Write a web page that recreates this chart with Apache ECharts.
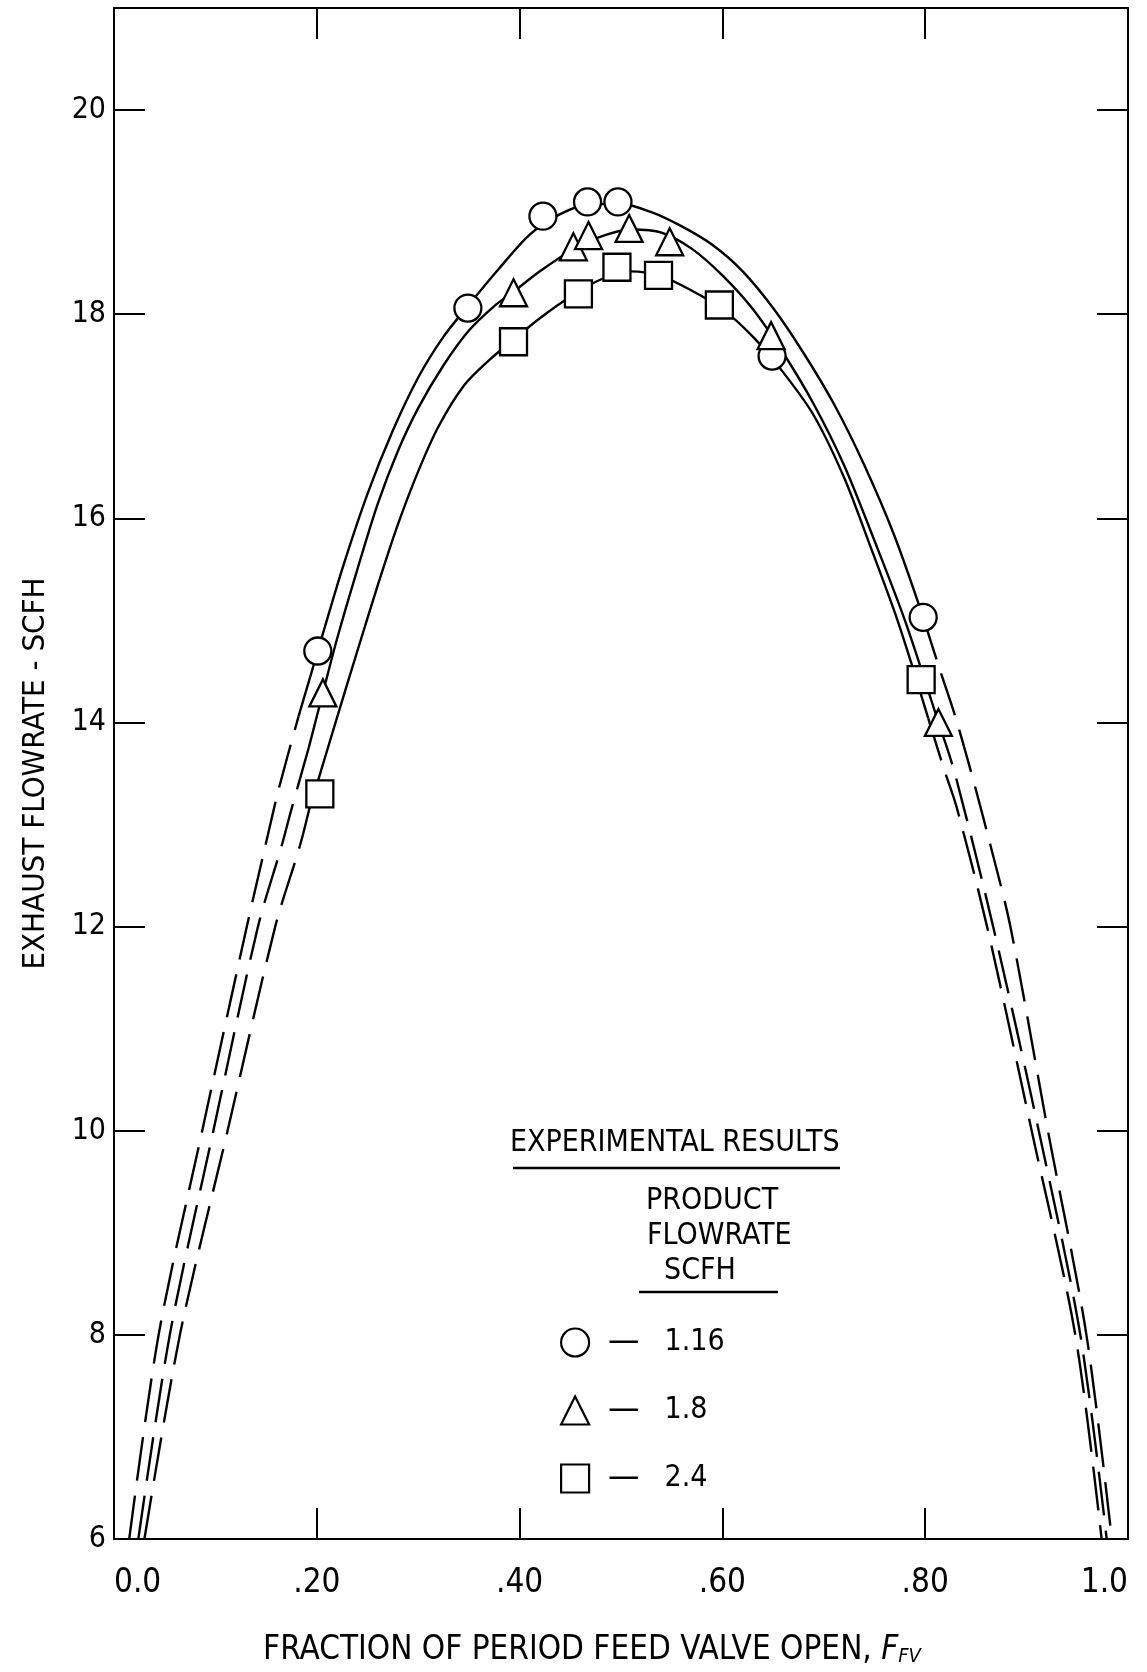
<!DOCTYPE html>
<html><head><meta charset="utf-8">
<script src="https://cdn.jsdelivr.net/npm/echarts@6/dist/echarts.min.js"></script>
<style>html,body{margin:0;padding:0;background:#fff}#c{width:1147px;height:1672px}</style>
</head><body><div id="c"></div>
<script>
// ---- tick labels ----
const xTickLabels = ['0.0', '.20', '.40', '.60', '.80', '1.0'];
const yTickValues = [6, 8, 10, 12, 14, 16, 18, 20];

// ---- series names (product flowrate, SCFH) ----
const seriesNames = ['1.16', '1.8', '2.4'];

// ---- experimental points [F_FV, exhaust flowrate] ----
const pts116 = [[0.201,14.70],[0.349,18.06],[0.423,18.96],[0.467,19.10],[0.497,19.10],[0.649,17.59],[0.798,15.03]];
const pts18  = [[0.206,14.29],[0.394,18.21],[0.453,18.66],[0.468,18.77],[0.508,18.84],[0.548,18.71],[0.648,17.79],[0.813,14.00]];
const pts24  = [[0.203,13.30],[0.394,17.73],[0.458,18.20],[0.496,18.46],[0.537,18.38],[0.597,18.09],[0.796,14.42]];

// ---- fitted curves (solid = data range, dashed = extrapolation) ----
const curve116Left  = [[0.015,6.0],[0.044,8.0],[0.087,10.0],[0.131,12.0],[0.149,12.78],[0.162,13.33],[0.182,14.06]];
const curve116Solid = [[0.182,14.06],[0.201,14.70],[0.225,15.50],[0.250,16.24],[0.275,16.86],[0.300,17.38],[0.325,17.78],[0.349,18.08],[0.380,18.45],[0.410,18.78],[0.440,18.98],[0.470,19.08],[0.500,19.08],[0.530,19.00],[0.560,18.86],[0.590,18.68],[0.620,18.42],[0.650,18.06],[0.680,17.62],[0.710,17.12],[0.740,16.52],[0.770,15.82],[0.798,15.03]];
const curve116Right = [[0.798,15.03],[0.815,14.50],[0.829,14.08],[0.844,13.56],[0.864,12.81],[0.884,12.0],[0.921,10.0],[0.959,8.0],[0.984,6.0]];

const curve18Left  = [[0.024,6.0],[0.055,8.0],[0.098,10.0],[0.142,12.0],[0.165,12.78],[0.175,13.15],[0.192,13.75]];
const curve18Solid = [[0.192,13.75],[0.206,14.29],[0.220,14.82],[0.240,15.50],[0.260,16.14],[0.280,16.66],[0.300,17.08],[0.325,17.50],[0.350,17.84],[0.375,18.08],[0.394,18.22],[0.420,18.42],[0.450,18.62],[0.480,18.76],[0.510,18.83],[0.540,18.80],[0.570,18.64],[0.600,18.38],[0.630,18.05],[0.660,17.62],[0.690,17.12],[0.720,16.52],[0.750,15.78],[0.780,15.00],[0.813,14.00]];
const curve18Right = [[0.813,14.00],[0.829,13.51],[0.867,12.0],[0.912,10.0],[0.953,8.0],[0.979,6.0]];

const curve24Left  = [[0.030,6.0],[0.065,8.0],[0.112,10.0],[0.159,12.0],[0.183,12.78],[0.193,13.17]];
const curve24Solid = [[0.193,13.17],[0.2015,13.44],[0.220,14.05],[0.240,14.70],[0.260,15.34],[0.280,15.94],[0.300,16.46],[0.320,16.90],[0.345,17.30],[0.370,17.55],[0.394,17.75],[0.420,17.96],[0.450,18.17],[0.480,18.34],[0.510,18.42],[0.540,18.37],[0.570,18.23],[0.600,18.05],[0.630,17.78],[0.660,17.43],[0.690,17.01],[0.720,16.40],[0.745,15.75],[0.771,15.05],[0.787,14.56],[0.803,14.04]];
const curve24Right = [[0.803,14.04],[0.818,13.56],[0.831,13.17],[0.861,12.0],[0.905,10.0],[0.948,8.0],[0.974,6.0]];

// ---- build chart ----
const FONT = "'DejaVu Sans Condensed','Liberation Sans Narrow','DejaVu Sans',sans-serif";
const chart = echarts.init(document.getElementById('c'), null, {renderer: 'canvas'});

function curve(data, dashed) {
  return {
    type: 'line', data: data, smooth: 0.3, showSymbol: false, symbol: 'none',
    silent: true, z: 2, animation: false,
    lineStyle: {color: '#000', width: 2.4, type: dashed ? [44, 15] : 'solid', cap: 'butt'}
  };
}
function marks(name, data, symbol, size) {
  return {
    type: 'scatter', name: name, data: data, symbol: symbol, symbolSize: size, z: 5,
    animation: false,
    itemStyle: {color: '#fff', borderColor: '#000', borderWidth: 2.3, opacity: 1}
  };
}

const axisLine = {show: true, onZero: false, lineStyle: {color: '#000', width: 2}};
const tick = {show: true, inside: true, length: 31, lineStyle: {color: '#000', width: 2}};

const option = {
  backgroundColor: '#fff',
  animation: false,
  grid: {left: 114, right: 19, top: 8, bottom: 128, containLabel: false},
  xAxis: [{
    type: 'value', min: 0, max: 1, interval: 0.2, position: 'bottom',
    axisLine: axisLine, axisTick: tick, splitLine: {show: false},
    axisLabel: {
      margin: 28, fontFamily: FONT, fontSize: 33, color: '#000',
      alignMinLabel: 'left', alignMaxLabel: 'right',
      formatter: function (v) { return xTickLabels[Math.round(v / 0.2)]; }
    },
    name: 'FRACTION OF PERIOD FEED VALVE OPEN, {f|F}{s|FV}',
    nameLocation: 'middle', nameGap: 94,
    nameTextStyle: {
      fontFamily: FONT, fontSize: 33, color: '#000', padding: [0, 58, 0, 0],
      rich: {
        f: {fontFamily: FONT, fontSize: 33, fontStyle: 'italic', color: '#000'},
        s: {fontFamily: FONT, fontSize: 20, fontStyle: 'italic', color: '#000', padding: [14, 0, 0, 0]}
      }
    }
  }, {
    type: 'value', min: 0, max: 1, interval: 0.2, position: 'top',
    axisLine: axisLine, axisTick: tick, axisLabel: {show: false}, splitLine: {show: false}
  }],
  yAxis: [{
    type: 'value', min: 6, max: 21, interval: 2, position: 'left',
    axisLine: axisLine, axisTick: tick, splitLine: {show: false},
    axisLabel: {
      margin: 8, fontFamily: FONT, fontSize: 30, color: '#000',
      formatter: function (v) { return yTickValues.indexOf(v) >= 0 ? String(v) : ''; }
    },
    name: 'EXHAUST FLOWRATE - SCFH', nameLocation: 'middle', nameGap: 63,
    nameTextStyle: {fontFamily: FONT, fontSize: 31, color: '#000'}
  }, {
    type: 'value', min: 6, max: 21, interval: 2, position: 'right',
    axisLine: axisLine, axisTick: tick, axisLabel: {show: false}, splitLine: {show: false}
  }],
  legend: {
    orient: 'vertical', left: 555, top: 1320, itemWidth: 28, itemHeight: 28, itemGap: 33,
    data: [
      {name: seriesNames[0], icon: 'circle'},
      {name: seriesNames[1], icon: 'triangle'},
      {name: seriesNames[2], icon: 'rect'}
    ],
    itemStyle: {color: '#fff', borderColor: '#000', borderWidth: 2.2},
    formatter: function (n) { return '{d|—}{v|' + n + '}'; },
    textStyle: {
      fontFamily: FONT, fontSize: 30, color: '#000',
      rich: {
        d: {fontFamily: FONT, fontSize: 35, color: '#000', padding: [0, 0, 0, 14]},
        v: {fontFamily: FONT, fontSize: 30, color: '#000', padding: [0, 0, 0, 25]}
      }
    },
    selectedMode: false
  },
  graphic: [
    {type: 'text', left: 510, top: 1128, style: {text: 'EXPERIMENTAL RESULTS', font: '30px ' + FONT, fill: '#000'}},
    {type: 'line', shape: {x1: 513, y1: 1168, x2: 840, y2: 1168}, style: {stroke: '#000', lineWidth: 2.5}},
    {type: 'text', left: 646, top: 1186, style: {text: 'PRODUCT', font: '30px ' + FONT, fill: '#000'}},
    {type: 'text', left: 647, top: 1221, style: {text: 'FLOWRATE', font: '30px ' + FONT, fill: '#000'}},
    {type: 'text', left: 664, top: 1256, style: {text: 'SCFH', font: '30px ' + FONT, fill: '#000'}},
    {type: 'line', shape: {x1: 639, y1: 1292, x2: 778, y2: 1292}, style: {stroke: '#000', lineWidth: 2.5}}
  ],
  series: [
    curve(curve116Left, true), curve(curve116Solid, false), curve(curve116Right, true),
    curve(curve18Left, true), curve(curve18Solid, false), curve(curve18Right, true),
    curve(curve24Left, true), curve(curve24Solid, false), curve(curve24Right, true),
    marks(seriesNames[0], pts116, 'circle', 27),
    marks(seriesNames[1], pts18, 'triangle', [27, 27]),
    marks(seriesNames[2], pts24, 'rect', 27)
  ]
};
chart.setOption(option);
</script></body></html>
